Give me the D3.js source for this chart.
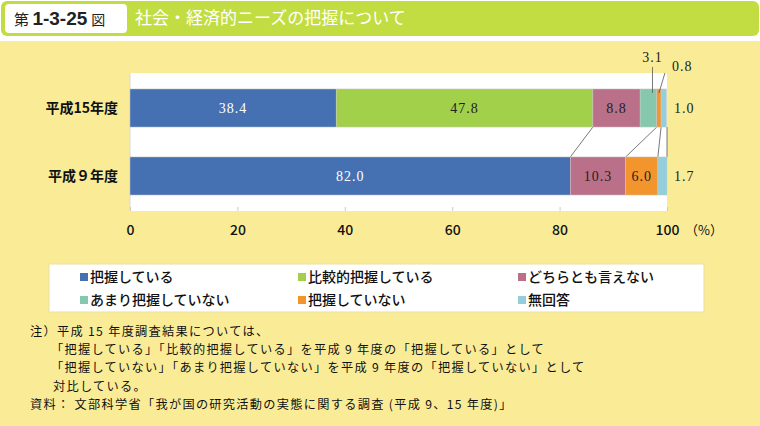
<!DOCTYPE html>
<html><head><meta charset="utf-8">
<script src="https://cdn.jsdelivr.net/npm/d3@7"></script>
<style>body{margin:0;background:#fff}svg{display:block}</style>
</head><body>
<svg id="c" width="760" height="426"></svg>
<script>
const categories = ["平成15年度", "平成９年度"];
const seriesNames = ["把握している", "比較的把握している", "どちらとも言えない", "あまり把握していない", "把握していない", "無回答"];
const seriesColors = ["#4571b3", "#a3d04b", "#bb7089", "#86c8ae", "#f2952d", "#93ceda"];
const h15Values = [38.4, 47.8, 8.8, 3.1, 0.8, 1.0];
const h9Values = [82.0, 0, 10.3, 0, 6.0, 1.7];
const xTicks = [0, 20, 40, 60, 80, 100];
const noteLines = [
  "注）平成 15 年度調査結果については、",
  "「把握している」「比較的把握している」を平成 9 年度の「把握している」として",
  "「把握していない」「あまり把握していない」を平成 9 年度の「把握していない」として",
  "対比している。",
  "資料： 文部科学省「我が国の研究活動の実態に関する調査 (平成 9、15 年度)」"
];
const titleNum = "1-3-25";
const titleText = "社会・経済的ニーズの把握について";

const svg = d3.select("#c");
const JP = "'Noto Sans CJK JP', sans-serif";
const SERIF = "'Liberation Serif', 'DejaVu Serif', serif";

// background
svg.append("rect").attr("width",760).attr("height",426).attr("fill","#fff");
svg.append("rect").attr("x",0).attr("y",41).attr("width",760).attr("height",385).attr("fill","#faec97");
// title bar
svg.append("rect").attr("x",1).attr("y",1).attr("width",758).attr("height",35).attr("rx",6).attr("fill","#c2dd41");
svg.append("rect").attr("x",5).attr("y",4).attr("width",122).attr("height",29).attr("rx",4).attr("fill","#fff");
const tt = svg.append("text").attr("x",14).attr("y",25).attr("font-family",JP).attr("fill","#222");
tt.append("tspan").attr("font-size",15).text("第 ");
tt.append("tspan").attr("font-size",19).attr("font-weight","bold").attr("font-family","'Liberation Sans', Arial, sans-serif").text(titleNum);
tt.append("tspan").attr("font-size",14).attr("dx",4).text("図");
svg.append("text").attr("x",135).attr("y",24).attr("font-family",JP).attr("font-size",17).attr("fill","#fff").text(titleText);

// plot
const x = d3.scaleLinear().domain([0,100]).range([130,667]);
const y = d3.scaleBand().domain(categories).range([73,211]).paddingInner(0.44).paddingOuter(0.235);
svg.append("rect").attr("x",x(0)).attr("y",73).attr("width",x(100)-x(0)).attr("height",138).attr("fill","#fff");
svg.append("line").attr("x1",x(0)).attr("x2",x(0)).attr("y1",73).attr("y2",211).attr("stroke","#d8d8d8");

const rows = [h15Values, h9Values];
const stacked = rows.map((vals,i)=>{
  let c = 0;
  return vals.map((v,j)=>{ const s={cat:categories[i],j,v,x0:c,x1:c+v}; c+=v; return s; });
});

// connector lines
const cum = stacked.map(r=>r.map(s=>s.x1));
const conns = [[cum[0][1], cum[1][0]],[cum[0][3], cum[1][2]],[cum[0][4], cum[1][4]],[100,100]];
const yB1 = y(categories[0])+y.bandwidth(), yT2 = y(categories[1]);
svg.selectAll(".conn").data(conns).join("line")
  .attr("x1",d=>x(d[0])).attr("x2",d=>x(d[1])).attr("y1",yB1).attr("y2",yT2)
  .attr("stroke","#555").attr("stroke-width",0.8);

stacked.forEach(r=>{
  svg.selectAll(null).data(r.filter(s=>s.v>0)).join("rect")
    .attr("x",d=>x(d.x0)).attr("y",d=>y(d.cat)).attr("width",d=>x(d.x1)-x(d.x0)).attr("height",y.bandwidth())
    .attr("fill",d=>seriesColors[d.j]).attr("stroke","#c8c8c8").attr("stroke-width",0.5);
  svg.selectAll(null).data(r.filter(s=>s.v>=5)).join("text")
    .attr("x",d=>x((d.x0+d.x1)/2)).attr("y",d=>y(d.cat)+y.bandwidth()/2+5)
    .attr("text-anchor","middle").attr("font-family",SERIF).attr("font-size",14)
    .attr("letter-spacing",1)
    .attr("fill",d=>d.j===0?"#fff":"#222").text(d=>d.v.toFixed(1));
});

// outside labels
const s31 = stacked[0][3], s08 = stacked[0][4];
const yb1 = y(categories[0]);
svg.append("line").attr("x1",x((s31.x0+s31.x1)/2)+4).attr("x2",x((s31.x0+s31.x1)/2)+4).attr("y1",yb1-22).attr("y2",yb1+4).attr("stroke","#555").attr("stroke-width",0.8);
svg.append("text").attr("x",x((s31.x0+s31.x1)/2)+4).attr("y",yb1-27).attr("text-anchor","middle").attr("font-family",SERIF).attr("font-size",14).attr("letter-spacing",1).attr("fill","#222").text(s31.v.toFixed(1));
svg.append("line").attr("x1",x((s08.x0+s08.x1)/2)+6).attr("x2",x((s08.x0+s08.x1)/2)).attr("y1",yb1-16).attr("y2",yb1+4).attr("stroke","#555").attr("stroke-width",0.8);
svg.append("text").attr("x",x(100)+5).attr("y",yb1-18).attr("font-family",SERIF).attr("font-size",14).attr("letter-spacing",1).attr("fill","#222").text(s08.v.toFixed(1));
[[0,stacked[0][5]],[1,stacked[1][5]]].forEach(([i,s])=>{
  svg.append("text").attr("x",x(100)+7).attr("y",y(categories[i])+y.bandwidth()/2+5).attr("font-family",SERIF).attr("font-size",14).attr("letter-spacing",1).attr("fill","#222").text(s.v.toFixed(1));
});

// category labels
svg.selectAll(".cat").data(categories).join("text")
  .attr("x",118).attr("y",d=>y(d)+y.bandwidth()/2+5).attr("text-anchor","end")
  .attr("font-family",JP).attr("font-size",14).attr("font-weight","bold").attr("fill","#111").text(d=>d);

// x axis
const ax = svg.append("g").attr("transform","translate(0,211)")
  .call(d3.axisBottom(x).tickValues(xTicks).tickSize(-4).tickPadding(14).tickFormat(d3.format("d")));
ax.select(".domain").remove();
ax.selectAll("line").attr("stroke","#ccc");
ax.selectAll("text").attr("font-family",JP).attr("font-size",14).attr("font-weight","500").attr("fill","#111");
svg.append("text").attr("x",x(100)+18).attr("y",235).attr("font-family",JP).attr("font-size",13).attr("fill","#111").text("（%）");

// legend
svg.append("rect").attr("x",49).attr("y",264).attr("width",655).attr("height",48).attr("fill","#fff").attr("stroke","#e8dfa0");
const legCols = [80, 298, 518], legRows = [277, 300];
const lg = svg.selectAll(".lg").data(seriesNames).join("g")
  .attr("transform",(d,i)=>`translate(${legCols[i%3]},${legRows[Math.floor(i/3)]})`);
lg.append("rect").attr("x",0).attr("y",-4).attr("width",8).attr("height",8).attr("fill",(d,i)=>seriesColors[i]);
lg.append("text").attr("x",10).attr("y",5).attr("font-family",JP).attr("font-size",14).attr("font-weight","500").attr("fill","#111").text(d=>d);

// notes
const noteX = [30, 51, 51, 53, 30], noteY = [331, 349, 367, 386, 404];
svg.selectAll(".note").data(noteLines).join("text")
  .attr("x",(d,i)=>noteX[i]).attr("y",(d,i)=>noteY[i]+4.5)
  .attr("font-family",JP).attr("font-size",12.2).attr("letter-spacing",1.3).attr("fill","#111").text(d=>d);
</script>
</body></html>
